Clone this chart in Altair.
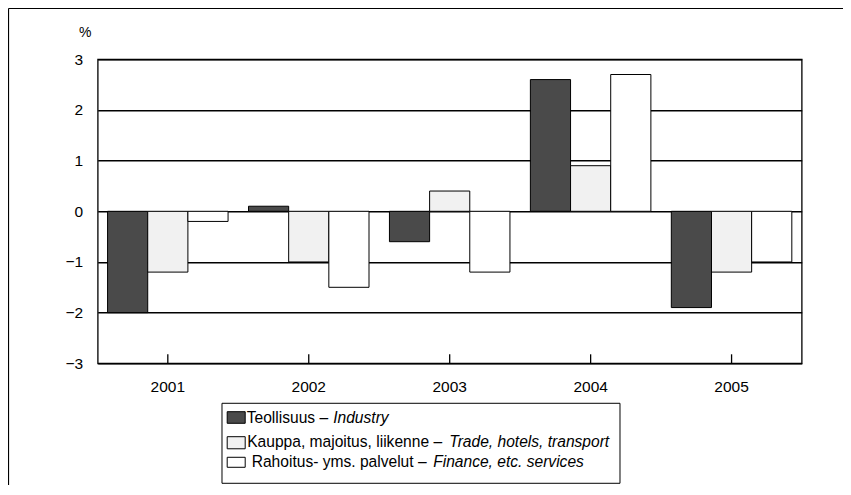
import altair as alt
import pandas as pd

years = ["2001", "2002", "2003", "2004", "2005"]
keys = ["Industry", "Trade", "Finance"]
industry = [-2.0, 0.1, -0.6, 2.6, -1.9]
trade = [-1.2, -1.0, 0.4, 0.9, -1.2]
finance = [-0.2, -1.5, -1.2, 2.7, -1.0]
legend_regular = ["Teollisuus – ", "Kauppa, majoitus, liikenne – ", "Rahoitus- yms. palvelut – "]
legend_italic = ["Industry", "Trade, hotels, transport", "Finance, etc. services"]
y_ticks = [-3, -2, -1, 0, 1, 2, 3]

colors = ["#4a4a4a", "#f1f1f1", "#ffffff"]

rows = []
for k, vals in zip(keys, [industry, trade, finance]):
    for yr, v in zip(years, vals):
        rows.append({"year": yr, "series": k, "value": v})
df = pd.DataFrame(rows)

W, H = 704, 304
FONT = "Liberation Sans"
FS = 15.5
LFS = 15.6

bars = alt.Chart(df).mark_bar(stroke="black", strokeWidth=1).encode(
    x=alt.X("year:N", sort=years,
            scale=alt.Scale(paddingInner=0.145, paddingOuter=0.07),
            axis=alt.Axis(title=None, labelAngle=0, ticks=False, domain=False,
                          labelPadding=16, labelFontSize=FS, labelColor="black",
                          labelFont=FONT)),
    xOffset=alt.XOffset("series:N", sort=keys,
                        scale=alt.Scale(domain=keys, paddingInner=0, paddingOuter=0)),
    y=alt.Y("value:Q", scale=alt.Scale(domain=[-3, 3], nice=False),
            axis=alt.Axis(values=y_ticks, grid=True, gridColor="black", gridWidth=1.5,
                          ticks=False, domain=False, title="%", titleAngle=0,
                          titleX=-13, titleY=-27, titleAlign="center",
                          titleBaseline="middle", titleFontWeight="normal",
                          titleFontSize=14, titleFont=FONT, titleColor="black",
                          labelPadding=15, labelFontSize=FS, labelColor="black",
                          labelFont=FONT, format="d")),
    color=alt.Color("series:N", sort=keys,
                    scale=alt.Scale(domain=keys, range=colors), legend=None),
)

one = pd.DataFrame({"k": [0]})
ticks = alt.Chart(pd.DataFrame({"year": years})).mark_rule(color="black", strokeWidth=1.3).encode(
    x=alt.X("year:N", sort=years), y=alt.value(H - 9), y2=alt.value(H)
)

frame_top = alt.Chart(one).mark_rule(color="black", strokeWidth=1.2).encode(
    x=alt.value(-89.2), x2=alt.value(W + 60), y=alt.value(-50.8)
)
frame_left = alt.Chart(one).mark_rule(color="black", strokeWidth=1.2).encode(
    x=alt.value(-89.2), y=alt.value(-50.8), y2=alt.value(H + 160)
)

legend_box = alt.Chart(one).mark_rect(fill="white", stroke="black", strokeWidth=1).encode(
    x=alt.value(124.3), x2=alt.value(522.3), y=alt.value(344), y2=alt.value(424)
)

row_y = [359, 382.4, 403]
reg_x = [149, 149.5, 154]
ital_x = [235.5, 351.6, 335.5]
sym_y = [(352.4, 364), (377.4, 389.5), (398, 408)]
layers = [frame_top, frame_left, bars, ticks, legend_box]
for i in range(3):
    layers.append(alt.Chart(one).mark_rect(fill=colors[i], stroke="black", strokeWidth=1).encode(
        x=alt.value(129.5), x2=alt.value(147.5), y=alt.value(sym_y[i][0]), y2=alt.value(sym_y[i][1])))
    layers.append(alt.Chart(one).mark_text(align="left", baseline="middle", font=FONT,
                                           fontSize=LFS, color="black").encode(
        x=alt.value(reg_x[i]), y=alt.value(row_y[i]), text=alt.value(legend_regular[i])))
    layers.append(alt.Chart(one).mark_text(align="left", baseline="middle", font=FONT,
                                           fontSize=LFS, fontStyle="italic", color="black").encode(
        x=alt.value(ital_x[i]), y=alt.value(row_y[i]), text=alt.value(legend_italic[i])))

chart = alt.layer(*layers).properties(
    width=W, height=H,
    autosize=alt.AutoSizeParams(type="none"),
    padding={"left": 89.7, "top": 51.3, "right": 41, "bottom": 122},
).configure_view(stroke="black", strokeWidth=1.3)

chart.save("out.html", embed_options={"renderer": "svg", "actions": False})
